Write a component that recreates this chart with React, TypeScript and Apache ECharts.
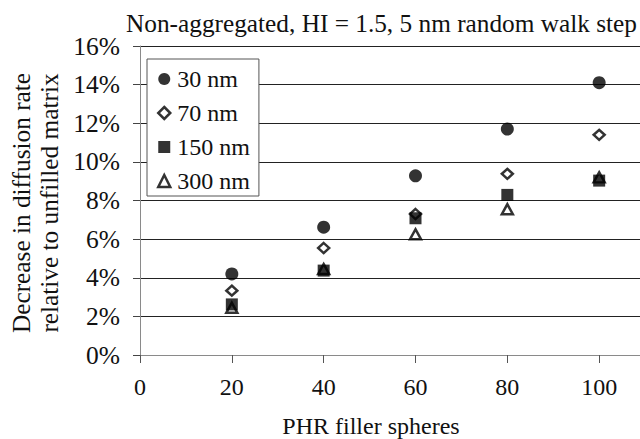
import React, { useEffect, useRef } from "react";
import * as echarts from "echarts";

const xValues = [20, 40, 60, 80, 100];
const seriesNames = ["30 nm", "70 nm", "150 nm", "300 nm"];
const s30 = [4.2, 6.62, 9.28, 11.7, 14.1];
const s70 = [3.33, 5.54, 7.3, 9.38, 11.4];
const s150 = [2.62, 4.37, 7.08, 8.29, 9.03];
const s300 = [2.45, 4.45, 6.25, 7.55, 9.2];
const titleText = "Non-aggregated, HI = 1.5, 5 nm random walk step";
const xName = "PHR filler spheres";
const yName = "Decrease in diffusion rate\nrelative to unfilled matrix";

const FONT = "Liberation Serif";

function pairs(ys: number[]) {
  return xValues.map((x, i) => [x, ys[i]]);
}

export default function App() {
  const ref = useRef<HTMLDivElement>(null);
  useEffect(() => {
    if (!ref.current) return;
    const chart = echarts.init(ref.current, undefined, { renderer: "svg" });
    const hollow = { color: "#fff", borderColor: "#000", borderWidth: 2.5 };
    chart.setOption({
      animation: false,
      backgroundColor: "#fff",
      textStyle: { fontFamily: FONT },
      grid: { left: 140, top: 46, width: 551, height: 309, containLabel: false, outerBoundsMode: "none" },
      xAxis: {
        type: "value",
        min: 0,
        max: 120,
        interval: 20,
        axisLine: { show: true, lineStyle: { color: "#8a8a8a", width: 1 } },
        axisTick: { show: true, length: 8, inside: false, lineStyle: { color: "#555" } },
        splitLine: { show: false },
        axisLabel: { margin: 20, fontSize: 24, color: "#111", fontFamily: FONT, showMaxLabel: false },
      },
      yAxis: {
        type: "value",
        min: 0,
        max: 16,
        interval: 2,
        axisLine: { show: true, lineStyle: { color: "#8a8a8a", width: 1 } },
        axisTick: { show: true, length: 7, inside: false, lineStyle: { color: "#444" } },
        splitLine: { show: true, lineStyle: { color: "#222", width: 1 } },
        axisLabel: { margin: 20, fontSize: 25.5, color: "#111", fontFamily: FONT, formatter: "{value}%" },
      },
      legend: {
        orient: "vertical",
        left: 147,
        top: 59,
        padding: [8, 9, 3, 10],
        itemGap: 10,
        itemWidth: 12,
        itemHeight: 12,
        backgroundColor: "#fff",
        borderColor: "#555",
        borderWidth: 1,
        borderRadius: 0,
        data: [
          { name: seriesNames[0] },
          { name: seriesNames[1], itemStyle: { borderWidth: 2.5, borderColor: "#000", color: "#fff" } },
          { name: seriesNames[2] },
          { name: seriesNames[3], itemStyle: { borderWidth: 2.5, borderColor: "#000", color: "#fff" } },
        ],
        textStyle: { fontSize: 24, color: "#111", fontFamily: FONT, padding: [0, 0, 0, 2] },
      },
      graphic: [
        {
          type: "text",
          x: 381.5,
          y: 23,
          style: { text: titleText, fontSize: 25.3, fontFamily: FONT, fill: "#111", textAlign: "center", textVerticalAlign: "middle" },
        },
        {
          type: "text",
          x: 371,
          y: 426,
          style: { text: xName, fontSize: 24, fontFamily: FONT, fill: "#111", textAlign: "center", textVerticalAlign: "middle" },
        },
        {
          type: "text",
          x: 35,
          y: 203,
          rotation: Math.PI / 2,
          style: {
            text: yName,
            fontSize: 25.3,
            fontFamily: FONT,
            fill: "#111",
            textAlign: "center",
            textVerticalAlign: "middle",
            lineHeight: 28,
          },
        },
      ],
      series: [
        {
          name: seriesNames[0],
          type: "scatter",
          z: 5,
          symbol: "circle",
          symbolSize: 13,
          itemStyle: { color: "#000" },
          data: pairs(s30),
          emphasis: { disabled: true },
        },
        {
          name: seriesNames[1],
          type: "scatter",
          z: 3,
          symbol: "diamond",
          symbolSize: [11, 10],
          itemStyle: hollow,
          data: pairs(s70),
          emphasis: { disabled: true },
        },
        {
          name: seriesNames[2],
          type: "scatter",
          z: 4,
          symbol: "rect",
          symbolSize: 12,
          itemStyle: { color: "#000" },
          data: pairs(s150),
          emphasis: { disabled: true },
        },
        {
          name: seriesNames[3],
          type: "scatter",
          z: 2,
          symbol: "triangle",
          symbolSize: [11, 10],
          itemStyle: hollow,
          data: pairs(s300),
          emphasis: { disabled: true },
        },
      ],
    });
    return () => chart.dispose();
  }, []);
  return (
    <div
      ref={ref}
      style={{ position: "absolute", left: 0, top: 0, width: 640, height: 439 }}
    />
  );
}
